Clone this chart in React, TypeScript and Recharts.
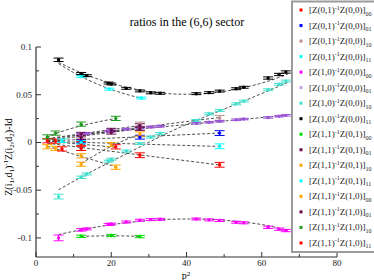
import React from "react";
import { ComposedChart, Scatter, Line, XAxis, YAxis, ErrorBar } from "recharts";

// p^2 values of the long Z(1,0)^-1 Z(0,0) runs
const pLong = [6, 12, 13.5, 19.3, 20, 24, 27.6, 30.5, 33, 42.6, 46, 48.8, 53.2, 55.2, 61.7, 64.6, 66.4];
const blackY = [0.0866, 0.0722, 0.07, 0.0622, 0.0612, 0.0567, 0.054, 0.052, 0.0515, 0.0511, 0.0522, 0.0538, 0.0563, 0.0578, 0.0675, 0.0712, 0.0738];
const blackErr = [0.0018, 0.0011, 0.001, 0.001, 0.001, 0.001, 0.001, 0.001, 0.001, 0.001, 0.001, 0.001, 0.001, 0.001, 0.0012, 0.0012, 0.0012];
const magentaY = [-0.1, -0.0916, -0.0906, -0.086, -0.0855, -0.0833, -0.0815, -0.0808, -0.0805, -0.0802, -0.0811, -0.0818, -0.0836, -0.0842, -0.0889, -0.0908, -0.0923];
const magentaErr = [0.003, 0.0013, 0.001, 0.001, 0.001, 0.001, 0.001, 0.001, 0.001, 0.001, 0.001, 0.001, 0.001, 0.001, 0.0012, 0.0012, 0.0012];
const turqY = [-0.0567, -0.0365, -0.033, -0.0196, -0.0175, -0.009, -0.0012, 0.0056, 0.0094, 0.0231, 0.03, 0.0336, 0.0405, 0.0433, 0.0552, 0.0609, 0.0643];
const turqErr = [0.0025, 0.0012, 0.001, 0.001, 0.001, 0.001, 0.001, 0.001, 0.001, 0.001, 0.001, 0.001, 0.001, 0.001, 0.001, 0.001, 0.001];
const violetX = [12, 13.5, 19.3, 20, 24, 27.6, 30.5, 33, 42.6, 46, 48.8, 53.2, 55.2, 61.7, 64.6, 66.4];
const violetY = [0.0088, 0.0095, 0.0118, 0.0122, 0.014, 0.015, 0.0162, 0.017, 0.02, 0.0212, 0.0222, 0.0238, 0.0245, 0.0262, 0.0275, 0.0284];
const violetErr = [0.0008, 0.0008, 0.0008, 0.0008, 0.0008, 0.0008, 0.0008, 0.0008, 0.0008, 0.0008, 0.0008, 0.0008, 0.0008, 0.0008, 0.0008, 0.0008];

// short runs
const cyanTopX = [12, 19.5, 28];
const cyanTopY = [0.0693, 0.0559, 0.0465];
const cyanTopErr = [0.001, 0.001, 0.001];
const blueX = [12, 27.6, 48.8];
const blueY = [0.0012, 0.0055, 0.0098];
const blueErr = [0.0018, 0.002, 0.0025];
const rosyX = [12, 27.6, 48.8];
const rosyY = [0.0072, 0.0192, 0.0258];
const rosyErr = [0.0018, 0.0022, 0.0025];
const red1X = [3, 5.2, 12, 21.2];
const red1Y = [0.0018, 0.0014, -0.0012, -0.0046];
const red1Err = [0.0022, 0.0022, 0.0022, 0.0022];
const red2X = [6.9, 12, 27.6, 48.8];
const red2Y = [-0.0068, -0.0062, -0.0134, -0.0234];
const red2Err = [0.0022, 0.0022, 0.0025, 0.0025];
const greenLowX = [12, 20, 27.6];
const greenLowY = [-0.0983, -0.0975, -0.0986];
const greenLowErr = [0.0012, 0.0012, 0.0012];
const greenHighX = [3, 5.2, 12, 21.2];
const greenHighY = [0.0058, 0.0098, 0.0192, 0.0252];
const greenHighErr = [0.0022, 0.0022, 0.0022, 0.0022];
const orange1X = [3, 5.2, 12, 21.2];
const orange1Y = [-0.0045, -0.0062, -0.014, -0.0259];
const orange1Err = [0.0022, 0.0022, 0.0022, 0.0022];
const orange2X = [12, 20, 27.6];
const orange2Y = [-0.0228, -0.0022, 0.0088];
const orange2Err = [0.0022, 0.0022, 0.0022];
const maroon1X = [12, 20, 27.6];
const maroon1Y = [0.0088, 0.013, 0.0178];
const maroon1Err = [0.0018, 0.0018, 0.0018];
const maroon2X = [12, 20, 27.6];
const maroon2Y = [0.0052, 0.0105, 0.0144];
const maroon2Err = [0.0018, 0.0018, 0.0018];
const cyanLowX = [6.9, 12, 48.8];
const cyanLowY = [0.0018, 0.0002, -0.004];
const cyanLowErr = [0.0018, 0.0018, 0.0025];

// dashed fit curves
const fitBlackX = [6, 12, 20, 30, 40, 50, 60, 67];
const fitBlackY = [0.084, 0.073, 0.062, 0.0533, 0.0505, 0.0535, 0.0622, 0.0718];
const fitCyanTopX = [6, 12, 20, 28];
const fitCyanTopY = [0.0826, 0.069, 0.0555, 0.0462];
const fitMagentaX = [6, 12, 20, 30, 40, 50, 60, 67];
const fitMagentaY = [-0.0965, -0.0915, -0.0862, -0.0818, -0.0802, -0.0815, -0.086, -0.0925];
const fitTurqX = [6, 15, 25, 35, 45, 55, 67];
const fitTurqY = [-0.0496, -0.03, -0.01, 0.01, 0.027, 0.043, 0.063];
const fitVioletX = [12, 66.4];
const fitVioletY = [0.0085, 0.0284];
const fitGreenLowX = [12, 20, 27.6];
const fitGreenLowY = [-0.0984, -0.0978, -0.0984];
const fitGreenHighX = [3, 5.2, 12, 21.2];
const fitGreenHighY = [0.0055, 0.0092, 0.0175, 0.0252];
const fitBlueX = [3, 48.8];
const fitBlueY = [0.0015, 0.0098];
const fitRosyX = [3, 48.8];
const fitRosyY = [0.0035, 0.0262];
const fitCyanLowX = [3, 48.8];
const fitCyanLowY = [0.0012, -0.0042];
const fitRed2X = [3, 48.8];
const fitRed2Y = [-0.0008, -0.0236];
const fitRed1X = [3, 21.2];
const fitRed1Y = [0.0012, -0.005];
const fitOrange1X = [3, 21.2];
const fitOrange1Y = [-0.004, -0.0255];
const fitOrange2X = [12, 20, 27.6];
const fitOrange2Y = [-0.022, -0.004, 0.0088];
const fitMaroon1X = [3, 27.6];
const fitMaroon1Y = [0.004, 0.0178];
const fitMaroon2X = [3, 27.6];
const fitMaroon2Y = [0.002, 0.0144];

const xTicks = [0, 10, 20, 30, 40, 50, 60, 70, 80];
const yTicks = [-0.1, -0.075, -0.05, -0.025, 0, 0.025, 0.05, 0.075, 0.1];
const yLabels: Record<string, string> = { "-0.1": "-0.1", "-0.05": "-0.05", "0": "0", "0.05": "0.05", "0.1": "0.1" };

const RED = "#ff0000";
const BLUE = "#0000ff";
const ROSY = "#bc8f8f";
const CYAN = "#00ffff";
const MAGENTA = "#ff00ff";
const VIOLET = "#9b55d8";
const TURQ = "#40e0d0";
const BLACK = "#000000";
const GREEN = "#00e000";
const MAROON = "#6b0b4e";
const ORANGE = "#ffa500";
const GREEN4 = "#1f9a1f";

const zip = (xs: number[], ys: number[], es?: number[]) =>
  xs.map((x, i) => ({ x, y: ys[i], e: es ? es[i] : 0 }));

const series = [
  { color: RED, data: zip(red1X, red1Y, red1Err), fit: zip(fitRed1X, fitRed1Y) },
  { color: BLUE, data: zip(blueX, blueY, blueErr), fit: zip(fitBlueX, fitBlueY) },
  { color: ROSY, data: zip(rosyX, rosyY, rosyErr), fit: zip(fitRosyX, fitRosyY) },
  { color: CYAN, data: zip(cyanTopX, cyanTopY, cyanTopErr), fit: zip(fitCyanTopX, fitCyanTopY) },
  { color: MAGENTA, data: zip(pLong, magentaY, magentaErr), fit: zip(fitMagentaX, fitMagentaY) },
  { color: VIOLET, data: zip(violetX, violetY, violetErr), fit: zip(fitVioletX, fitVioletY) },
  { color: TURQ, data: zip(pLong, turqY, turqErr), fit: zip(fitTurqX, fitTurqY) },
  { color: BLACK, data: zip(pLong, blackY, blackErr), fit: zip(fitBlackX, fitBlackY) },
  { color: GREEN, data: zip(greenLowX, greenLowY, greenLowErr), fit: zip(fitGreenLowX, fitGreenLowY) },
  { color: MAROON, data: zip(maroon1X, maroon1Y, maroon1Err), fit: zip(fitMaroon1X, fitMaroon1Y) },
  { color: ORANGE, data: zip(orange1X, orange1Y, orange1Err), fit: zip(fitOrange1X, fitOrange1Y) },
  { color: CYAN, data: zip(cyanLowX, cyanLowY, cyanLowErr), fit: zip(fitCyanLowX, fitCyanLowY) },
  { color: ORANGE, data: zip(orange2X, orange2Y, orange2Err), fit: zip(fitOrange2X, fitOrange2Y) },
  { color: MAROON, data: zip(maroon2X, maroon2Y, maroon2Err), fit: zip(fitMaroon2X, fitMaroon2Y) },
  { color: GREEN4, data: zip(greenHighX, greenHighY, greenHighErr), fit: zip(fitGreenHighX, fitGreenHighY) },
  { color: RED, data: zip(red2X, red2Y, red2Err), fit: zip(fitRed2X, fitRed2Y) },
];

const legendItems = [
  { a: "[Z(0,1)", b: "Z(0,0)]", s: "00", color: RED },
  { a: "[Z(0,1)", b: "Z(0,0)]", s: "01", color: BLUE },
  { a: "[Z(0,1)", b: "Z(0,0)]", s: "10", color: ROSY },
  { a: "[Z(0,1)", b: "Z(0,0)]", s: "11", color: CYAN },
  { a: "[Z(1,0)", b: "Z(0,0)]", s: "00", color: MAGENTA },
  { a: "[Z(1,0)", b: "Z(0,0)]", s: "01", color: "#c9a0e8" },
  { a: "[Z(1,0)", b: "Z(0,0)]", s: "10", color: TURQ },
  { a: "[Z(1,0)", b: "Z(0,0)]", s: "11", color: BLACK },
  { a: "[Z(1,1)", b: "Z(0,1)]", s: "00", color: GREEN },
  { a: "[Z(1,1)", b: "Z(0,1)]", s: "01", color: MAROON },
  { a: "[Z(1,1)", b: "Z(0,1)]", s: "10", color: ORANGE },
  { a: "[Z(1,1)", b: "Z(0,1)]", s: "11", color: CYAN },
  { a: "[Z(1,1)", b: "Z(1,0)]", s: "00", color: ORANGE },
  { a: "[Z(1,1)", b: "Z(1,0)]", s: "01", color: MAROON },
  { a: "[Z(1,1)", b: "Z(1,0)]", s: "10", color: GREEN4 },
  { a: "[Z(1,1)", b: "Z(1,0)]", s: "11", color: RED },
];

const FONT = "'Liberation Serif', 'DejaVu Serif', serif";
const AXIS = "#333";

const YTick = (props: any) => {
  const { x, y, payload } = props;
  const label = yLabels[String(payload.value)];
  const len = label !== undefined ? 5 : 3;
  return (
    <g>
      <line x1={x} y1={y} x2={x + len} y2={y} stroke={AXIS} strokeWidth={1} />
      {label !== undefined && (
        <text x={x - 4} y={y + 3} textAnchor="end" fontSize={9} fontFamily={FONT} fill="#222">
          {label}
        </text>
      )}
    </g>
  );
};

const XTickBottom = (props: any) => {
  const { x, y, payload } = props;
  const major = payload.value % 20 === 0;
  return (
    <g>
      <line x1={x} y1={y} x2={x} y2={y - (major ? 5 : 3)} stroke={AXIS} strokeWidth={1} />
      {major && (
        <text x={x} y={y + 9} textAnchor="middle" fontSize={9} fontFamily={FONT} fill="#222">
          {payload.value}
        </text>
      )}
    </g>
  );
};

const XTickTop = (props: any) => {
  const { x, y, payload } = props;
  const major = payload.value % 20 === 0;
  return <line x1={x} y1={y} x2={x} y2={y + (major ? 5 : 3)} stroke={AXIS} strokeWidth={1} />;
};

const makeDot = (color: string) => (props: any) =>
  <circle cx={props.cx} cy={props.cy} r={1.7} fill={color} />;

export default function App() {
  return (
    <div style={{ position: "absolute", left: 0, top: 0, width: 374, height: 280, overflow: "hidden", background: "#fff" }}>
      <ComposedChart width={374} height={280} margin={{ top: 47, right: 37, bottom: 0, left: 0 }}>
        <XAxis
          dataKey="x"
          type="number"
          domain={[0, 80]}
          ticks={xTicks}
          height={23}
          tickSize={0}
          tickMargin={0}
          tickLine={false}
          axisLine={{ stroke: AXIS, strokeWidth: 1.2 }}
          tick={XTickBottom}
          allowDataOverflow
        />
        <XAxis
          xAxisId="top"
          orientation="top"
          type="number"
          domain={[0, 80]}
          ticks={xTicks}
          height={0}
          tickSize={0}
          tickMargin={0}
          tickLine={false}
          axisLine={{ stroke: AXIS, strokeWidth: 1.2 }}
          tick={XTickTop}
        />
        <YAxis
          type="number"
          domain={[-0.12, 0.1]}
          ticks={yTicks}
          width={36}
          tickSize={0}
          tickMargin={0}
          tickLine={false}
          axisLine={{ stroke: AXIS, strokeWidth: 1.2 }}
          tick={YTick}
          allowDataOverflow
        />
        {series.map((s, i) => (
          <Line
            key={`f${i}`}
            data={s.fit}
            dataKey="y"
            type="natural"
            stroke="#3a3a3a"
            strokeWidth={0.9}
            strokeDasharray="3 2"
            dot={false}
            activeDot={false}
            isAnimationActive={false}
          />
        ))}
        {series.map((s, i) => (
          <Scatter
            key={`s${i}`}
            data={s.data}
            dataKey="y"
            fill={s.color}
            shape={makeDot(s.color)}
            isAnimationActive={false}
          >
            <ErrorBar dataKey="e" direction="y" width={5} stroke={s.color} strokeWidth={1} />
          </Scatter>
        ))}
      </ComposedChart>
      <svg width={374} height={280} style={{ position: "absolute", left: 0, top: 0, pointerEvents: "none" }}>
        <text x={187} y={26} textAnchor="middle" fontSize={12} fontFamily={FONT} fill="#000">
          ratios in the (6,6) sector
        </text>
        <text x={186} y={279} textAnchor="middle" fontSize={10} fontFamily={FONT} fill="#000">
          p<tspan dy={-3.5} fontSize={7}>2</tspan>
        </text>
        <text transform="translate(11.5,157) rotate(-90)" textAnchor="middle" fontSize={10} fontFamily={FONT} fill="#000">
          Z(i<tspan dy={2} fontSize={7}>1</tspan>
          <tspan dy={-2}>,d</tspan>
          <tspan dy={2} fontSize={7}>1</tspan>
          <tspan dy={-2}>)</tspan>
          <tspan dy={-4} fontSize={7}>-1</tspan>
          <tspan dy={4}>Z(i</tspan>
          <tspan dy={2} fontSize={7}>2</tspan>
          <tspan dy={-2}>,d</tspan>
          <tspan dy={2} fontSize={7}>2</tspan>
          <tspan dy={-2}>)-Id</tspan>
        </text>
        <rect x={292} y={1.5} width={90} height={250.5} fill="#fff" stroke="#9a9a9a" strokeWidth={2} />
        {legendItems.map((it, i) => {
          const cy = 10 + i * 15.53;
          return (
            <g key={i}>
              <rect x={299.5} y={cy - 1.5} width={3} height={3} fill={it.color} />
              <text x={309} y={cy + 3} fontSize={9} fontFamily={FONT} fill="#222">
                {it.a}
                <tspan dy={-3.5} fontSize={6}>-1</tspan>
                <tspan dy={3.5}>{it.b}</tspan>
                <tspan dy={2.5} fontSize={6}>{it.s}</tspan>
              </text>
            </g>
          );
        })}
      </svg>
    </div>
  );
}
